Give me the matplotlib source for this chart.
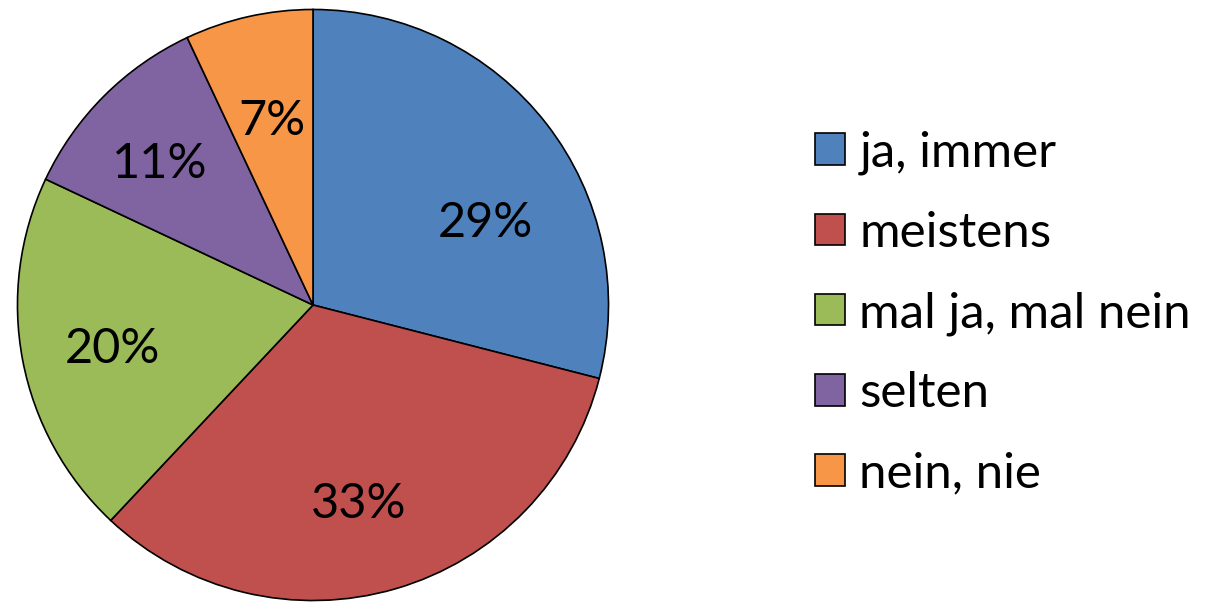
import matplotlib
matplotlib.use("Agg")
import matplotlib.pyplot as plt
from matplotlib.patches import Patch

categories = ["ja, immer", "meistens", "mal ja, mal nein", "selten", "nein, nie"]
values = [29, 33, 20, 11, 7]
colors = ["#4F81BD", "#C0504D", "#9BBB59", "#8064A2", "#F79646"]
# label anchor positions (in pie radius units), as placed in the original
label_pos = [(0.584, 0.279), (0.153, -0.673), (-0.677, -0.150), (-0.517, 0.478), (-0.138, 0.621)]

plt.rcParams['font.family'] = ['Lato', 'DejaVu Sans']
FS = 35

fig = plt.figure(figsize=(12.12, 6.04), dpi=100)
W, H = 1212, 604
cx, cy, r = 313, 305, 297
ax = fig.add_axes([(cx - r) / W, (H - cy - r) / H, 2 * r / W, 2 * r / H])
wedges, texts, autotexts = ax.pie(
    values, colors=colors, startangle=90, counterclock=False,
    autopct=lambda p: f"{p:.0f}%", pctdistance=0.69,
    wedgeprops=dict(edgecolor="black", linewidth=1.2),
    textprops=dict(fontsize=FS, color="black"), radius=1.0)
ax.set_xlim(-1.005, 1.005)
ax.set_ylim(-1.005, 1.005)
ax.set_aspect("equal")
for t, p in zip(autotexts, label_pos):
    t.set_position(p)

handles = [Patch(facecolor=c, edgecolor="black", linewidth=1.2) for c in colors]
fig.legend(handles, categories, loc="center left", bbox_to_anchor=(815 / W, 1 - 313 / H),
           frameon=False, fontsize=FS + 0.5, handlelength=0.6, handleheight=0.6,
           handletextpad=0.3, labelspacing=0.73, borderaxespad=0, borderpad=0)

fig.savefig("out.png", dpi=100)
